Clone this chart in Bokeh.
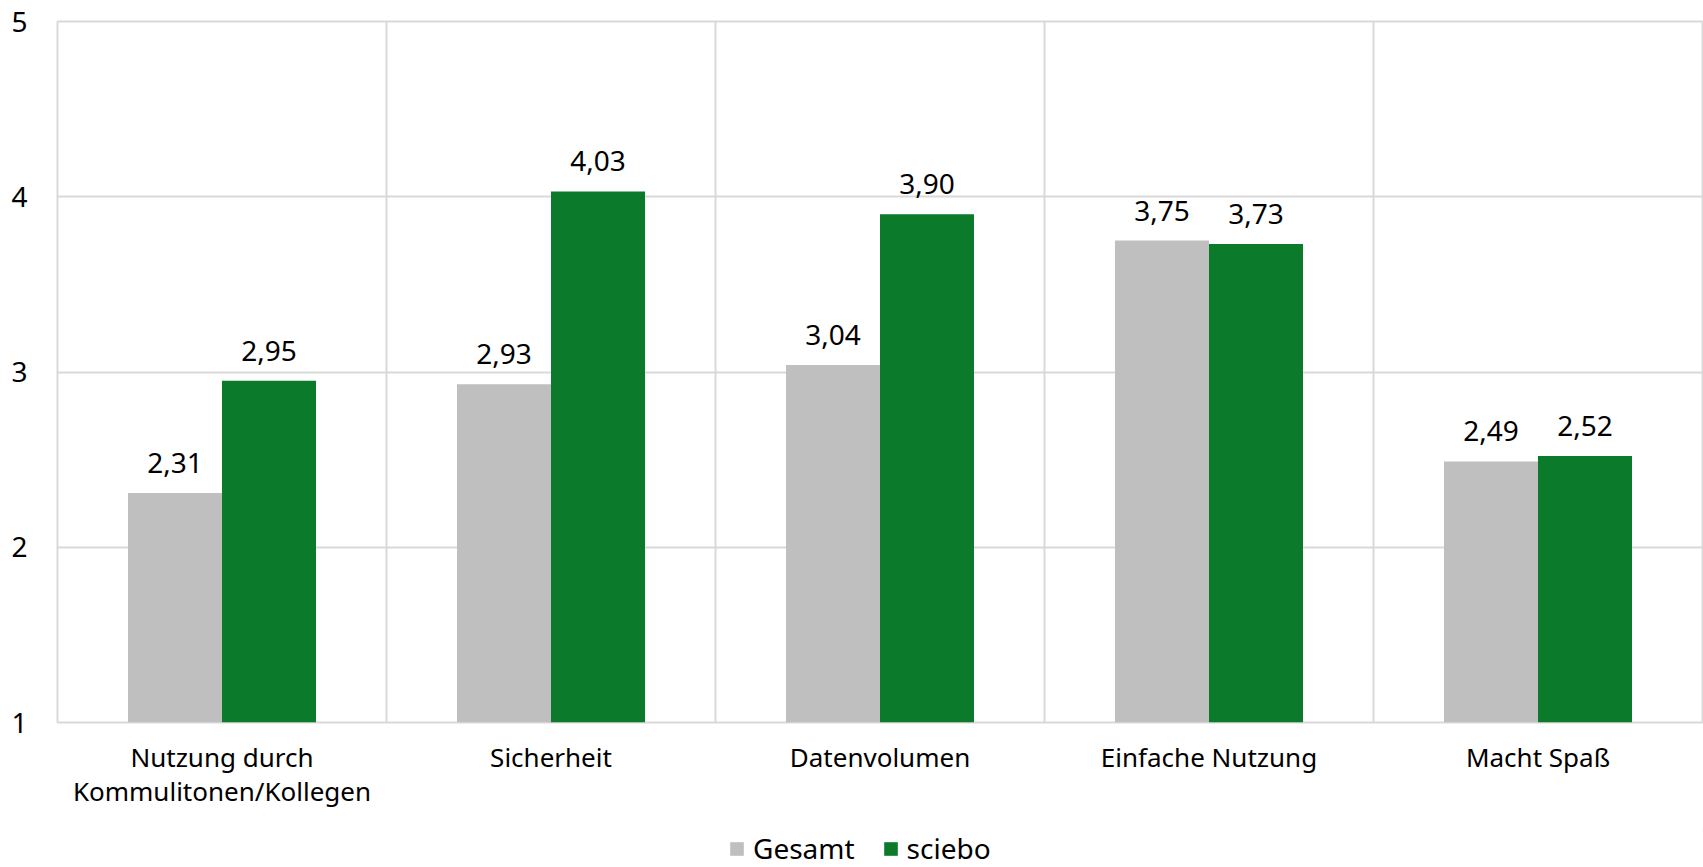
from bokeh.plotting import figure
from bokeh.layouts import column
from bokeh.models import FixedTicker, ColumnDataSource, Legend, LegendItem
from bokeh.core.properties import value
from bokeh.embed import file_html
from bokeh.resources import INLINE

categories = ["Nutzung durch\nKommulitonen/Kollegen", "Sicherheit", "Datenvolumen",
              "Einfache Nutzung", "Macht Spaß"]
gesamt = [2.31, 2.93, 3.04, 3.75, 2.49]
sciebo = [2.95, 4.03, 3.90, 3.73, 2.52]
series_names = ["Gesamt", "sciebo"]
colors = ["#bfbfbf", "#0b7a2a"]
y_ticks = [1, 2, 3, 4, 5]

FONT = "Noto Sans"
FS = "26px"
FS_NUM = "28px"
BAR_W = 0.2857
GRID = "#d9d9d9"

n = len(categories)
centers = [i + 0.5 for i in range(n)]

p = figure(width=1703, height=830, x_range=(0, n), y_range=(1, 5),
           output_backend="svg", toolbar_location=None,
           min_border_left=57, min_border_top=21, min_border_right=1, min_border_bottom=108)
p.background_fill_color = "white"
p.border_fill_color = "white"
p.outline_line_color = GRID
p.outline_line_width = 2

for k, (vals, col) in enumerate(zip([gesamt, sciebo], colors)):
    off = (k - 0.5) * BAR_W
    src = ColumnDataSource(dict(x=[c + off for c in centers], top=vals,
                                lbl=[f"{v:.2f}".replace(".", ",") for v in vals]))
    p.vbar(x="x", top="top", bottom=1, width=BAR_W, source=src,
           fill_color=col, line_color=None)
    p.text(x="x", y="top", text="lbl", source=src, text_align="center",
           text_baseline="alphabetic", y_offset=-30, text_font=value(FONT),
           text_font_size=value(FS_NUM), text_color="#000000")

# axes
p.xaxis.ticker = FixedTicker(ticks=centers)
p.xaxis.major_label_overrides = {c: lab for c, lab in zip(centers, categories)}
p.xaxis.axis_line_color = None
p.xaxis.major_tick_line_color = None
p.xaxis.minor_tick_line_color = None
p.xaxis.major_label_standoff = 10
p.xaxis.major_label_text_font = FONT
p.xaxis.major_label_text_font_size = FS
p.xaxis.major_label_text_line_height = 0.95
p.xaxis.major_label_text_color = "#000000"

p.yaxis.ticker = FixedTicker(ticks=y_ticks)
p.yaxis.axis_line_color = None
p.yaxis.major_tick_line_color = None
p.yaxis.minor_tick_line_color = None
p.yaxis.major_label_standoff = 24
p.yaxis.major_label_text_font = FONT
p.yaxis.major_label_text_font_size = FS_NUM
p.yaxis.major_label_text_color = "#000000"

p.ygrid.ticker = FixedTicker(ticks=y_ticks)
p.ygrid.grid_line_color = GRID
p.ygrid.grid_line_width = 2
p.xgrid.ticker = FixedTicker(ticks=list(range(n + 1)))
p.xgrid.grid_line_color = GRID
p.xgrid.grid_line_width = 2

# legend strip below the chart
lf = figure(width=1703, height=37, x_range=(0, 1), y_range=(0, 1),
            output_backend="svg", toolbar_location=None,
            min_border=0, min_border_left=0, min_border_right=0,
            min_border_top=0, min_border_bottom=0)
lf.axis.visible = False
lf.grid.visible = False
lf.outline_line_color = None
lf.border_fill_color = "white"
items = []
for nm, col in zip(series_names, colors):
    r = lf.vbar(x=[5], top=[5], bottom=[4], width=0.1, fill_color=col, line_color=None)
    items.append(LegendItem(label=nm, renderers=[r]))
legend = Legend(items=items, orientation="horizontal", location=(671, 0),
                label_text_font=FONT, label_text_font_size="28px", label_text_color="#000000",
                glyph_width=17, glyph_height=17, label_standoff=8, spacing=27,
                border_line_color=None, background_fill_alpha=0, padding=0, margin=0)
lf.add_layout(legend)

layout = column(p, lf, spacing=0)
open("out.html", "w").write(file_html(layout, INLINE))
